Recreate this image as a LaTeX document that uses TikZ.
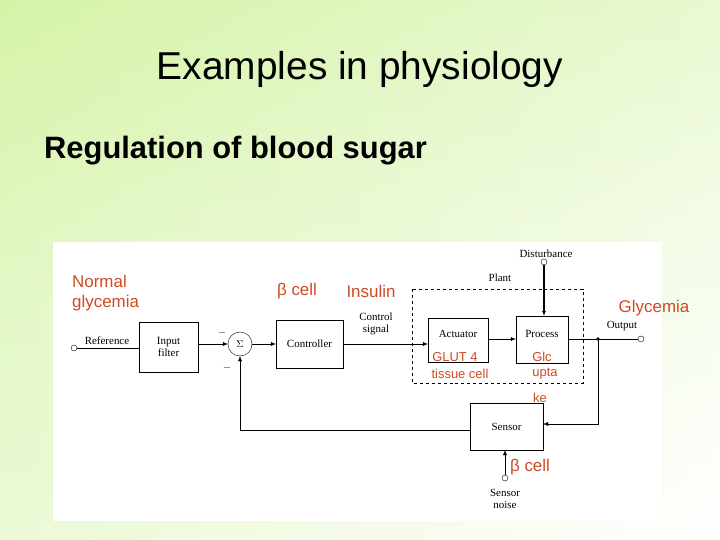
\documentclass[tikz,border=0pt]{standalone}
\usepackage{fontspec}
\setmainfont{Liberation Serif}
\newfontfamily\arial{Liberation Sans}
\usetikzlibrary{arrows.meta}
\definecolor{lab}{RGB}{205,75,35}
\definecolor{gtop}{RGB}{200,240,140}
\begin{document}
\begin{tikzpicture}[x=1bp,y=-1bp,
  blk/.style={draw,thin,minimum width=#1,inner sep=0pt,font=\fontsize{11}{12}\selectfont,align=center},
  red/.style={text=lab,font=\arial\fontsize{17}{20}\selectfont,inner sep=0pt,align=left},
  sml/.style={text=lab,font=\arial\fontsize{13}{15}\selectfont,inner sep=0pt},
  sm/.style={font=\fontsize{11}{12}\selectfont,inner sep=0pt,align=center},
  term/.style={circle,draw,inner sep=0pt,minimum size=6bp},
  arr/.style={-{Latex[length=5bp,width=4bp]},thin}]
\useasboundingbox (0,0) rectangle (720,540);
\shade[top color=gtop,bottom color=white,middle color=gtop!40!white] (0,0) rectangle (720,540);
\shade[left color=gtop!60!white,right color=white,opacity=0.6] (0,0) rectangle (720,540);
\fill[white] (53,242) rectangle (662,521);
\node[font=\arial\fontsize{39}{42}\selectfont] (title) at (360,69) {Examples in physiology};
\node[font=\arial\bfseries\fontsize{31}{34}\selectfont,anchor=west,inner sep=0pt] (sub) at (44,151) {Regulation of blood sugar};
% blocks
\node[term] (ref) at (74,348) {};
\node[sm,anchor=south] (reflab) at (107,345) {Reference};
\node[blk=59bp,minimum height=50bp] (filt) at (168.5,347) {Input\\filter};
\node[circle,draw,minimum size=24bp,inner sep=0pt] (sum) at (240,344) {$\Sigma$};
\node[blk=67bp,minimum height=48bp] (ctrl) at (309.5,344) {Controller};
\node[sm] (cs) at (376,324) {Control\\signal};
\draw[dashed,thin] (412,289) rectangle (583,383);
\node[sm] (plant) at (500,278) {Plant};
\node[blk=60bp,minimum height=44bp,anchor=north,text depth=12bp] (act) at (458,318) {Actuator};
\node[blk=52bp,minimum height=47bp,anchor=north,text depth=12bp] (proc) at (542,316) {Process};
\node[term] (dist) at (544,262) {};
\node[sm,anchor=south] (distl) at (546,258) {Disturbance};
\node[term] (out) at (641,339) {};
\node[sm] (outl) at (622,326) {Output};
\fill (598,339) circle (1.8bp) coordinate (j);
\node[blk=73bp,minimum height=47bp] (sens) at (506.5,426.5) {Sensor};
\node[term] (noise) at (505,478) {};
\node[sm] (noisel) at (505,499) {Sensor\\noise};
\node[sm] (m1) at (222,333) {$-$};
\node[sm] (m2) at (227,368) {$-$};
% connectors
\draw[thin] (ref) -- (filt.west |- ref);
\draw[arr] (filt.east |- sum) -- (sum);
\draw[arr] (sum) -- (ctrl);
\draw[arr] (ctrl) -- (act.west |- ctrl);
\draw[arr] (act.east |- 0,339) -- (proc.west |- 0,339);
\draw[arr,line width=1.2pt] (dist) -- (proc.north -| dist);
\draw[thin] (proc.east |- out) -- (out);
\draw[arr] (j) -- (598,424) -- (sens.east |- 0,424);
\draw[arr] (noise) -- (sens.south -| noise);
\draw[arr] (sens.west |- 0,430) -- (240,430) -- (sum);
% red labels
\node[red,anchor=north west] (ng) at (72,275) {Normal\\glycemia};
\node[red] (b1) at (297,291) {β cell};
\node[red] (ins) at (371,291) {Insulin};
\node[red] (gly) at (654,308) {Glycemia};
\node[sml] (g4) at (455,357) {GLUT 4};
\node[sml] (tc) at (460,374) {tissue cell};
\node[sml] (glc) at (542,357) {Glc};
\node[sml] (up) at (545,374) {upta};
\node[sml] (ke) at (540,398) {ke};
\node[red] (b2) at (530,467) {β cell};
\end{tikzpicture}
\end{document}
